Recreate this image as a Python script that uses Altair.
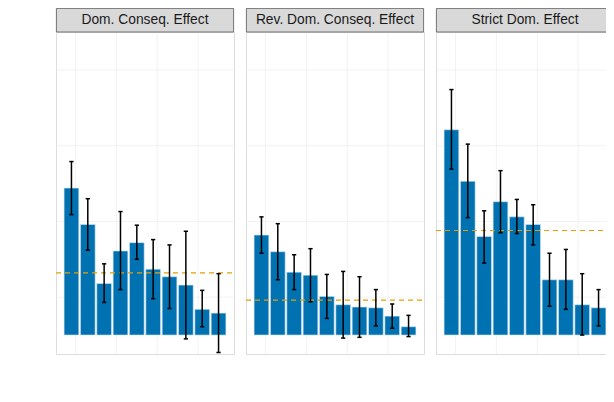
import altair as alt
import pandas as pd

panels = ["Dom. Conseq. Effect", "Rev. Dom. Conseq. Effect", "Strict Dom. Effect"]
xs = [1, 2, 3, 4, 5, 6, 7, 8, 9, 10]

rate_dom = [0.194, 0.146, 0.068, 0.111, 0.122, 0.087, 0.077, 0.066, 0.034, 0.029]
lo_dom = [0.159, 0.112, 0.043, 0.060, 0.100, 0.048, 0.035, -0.005, 0.011, -0.023]
hi_dom = [0.229, 0.180, 0.094, 0.163, 0.145, 0.126, 0.119, 0.137, 0.059, 0.081]

rate_rev = [0.132, 0.110, 0.083, 0.079, 0.051, 0.040, 0.037, 0.036, 0.025, 0.011]
lo_rev = [0.108, 0.073, 0.060, 0.044, 0.022, -0.004, -0.003, 0.012, 0.009, -0.002]
hi_rev = [0.156, 0.147, 0.106, 0.114, 0.080, 0.084, 0.077, 0.060, 0.041, 0.026]

rate_str = [0.271, 0.203, 0.130, 0.176, 0.156, 0.146, 0.073, 0.073, 0.040, 0.036]
lo_str = [0.219, 0.155, 0.095, 0.135, 0.134, 0.119, 0.038, 0.034, 0.000, 0.012]
hi_str = [0.324, 0.252, 0.164, 0.217, 0.179, 0.172, 0.108, 0.113, 0.081, 0.060]

ref_lines = [0.082, 0.046, 0.138]

rates = [rate_dom, rate_rev, rate_str]
los = [lo_dom, lo_rev, lo_str]
his = [hi_dom, hi_rev, hi_str]

x_major = [2.5, 5, 7.5, 10]
x_minor = [1.25, 3.75, 6.25, 8.75]
y_major = [0, 0.1, 0.2, 0.3, 0.4]
y_minor = [0.05, 0.15, 0.25, 0.35]

rows = []
for p, r, l, h, ref in zip(panels, rates, los, his, ref_lines):
    for x, rv, lv, hv in zip(xs, r, l, h):
        rows.append({"panel": p, "x": x, "rate": rv, "lo": lv, "hi": hv, "ref": ref})
df = pd.DataFrame(rows)

W = 178
H = 322
STRIP = 24
FONT = "Liberation Sans"
MAJ = "#DCDCDC"
MIN = "#E6E6E6"

xscale = alt.Scale(domain=[0.055, 10.945], nice=False, zero=False)
yscale = alt.Scale(domain=[-0.025, 0.4], nice=False, zero=False)

common_axis = dict(
    domain=False,
    tickColor="#333333",
    tickSize=4,
    labelFont=FONT,
    labelFontSize=14.5,
    labelColor="#4D4D4D",
    labelOverlap=False,
    labelFlush=False,
    titleFont=FONT,
    titleFontSize=14.5,
    titleFontWeight="normal",
    titleColor="#000000",
)


def panel_chart(i):
    sub = df[df["panel"] == panels[i]]
    base = alt.Chart(sub).properties(width=W, height=H)

    xaxis = alt.Axis(
        title="Logical Anomaly" if i == 1 else None,
        titlePadding=3,
        labelPadding=2,
        values=x_major,
        format=".1f",
        gridColor=MAJ,
        gridWidth=0.8,
        **common_axis,
    )
    if i == 0:
        yaxis = alt.Axis(
            title="Error Rate",
            titlePadding=3,
            labelPadding=5,
            values=y_major,
            format=".1f",
            gridColor=MAJ,
            gridWidth=0.8,
            **common_axis,
        )
    else:
        yaxis = alt.Axis(
            title=None, labels=False, ticks=False, domain=False,
            values=y_major, gridColor=MAJ, gridWidth=0.8,
        )

    # minor grid lines (panel decoration)
    vminor = alt.Chart(pd.DataFrame({"g": x_minor})).mark_rule(
        color=MIN, strokeWidth=0.5
    ).encode(x=alt.X("g:Q", scale=xscale, axis=None), y=alt.value(0), y2=alt.value(H))
    hminor = alt.Chart(pd.DataFrame({"g": y_minor})).mark_rule(
        color=MIN, strokeWidth=0.5
    ).encode(y=alt.Y("g:Q", scale=yscale, axis=None), x=alt.value(0), x2=alt.value(W))

    bars = base.transform_calculate(
        xl="datum.x - 0.45", xr="datum.x + 0.45", zero="0"
    ).mark_rect(color="#0072B2", stroke="#D6E6F2", strokeWidth=0.6).encode(
        x=alt.X("xl:Q", scale=xscale, axis=xaxis),
        x2="xr:Q",
        y=alt.Y("rate:Q", scale=yscale, axis=yaxis),
        y2="zero:Q",
    )

    err = base.mark_rule(color="black", strokeWidth=1.5).encode(
        x="x:Q", y="lo:Q", y2="hi:Q"
    )
    caps_lo = base.transform_calculate(
        cl="datum.x - 0.13", cr="datum.x + 0.13"
    ).mark_rule(color="black", strokeWidth=1.5).encode(x="cl:Q", x2="cr:Q", y="lo:Q")
    caps_hi = base.transform_calculate(
        cl="datum.x - 0.13", cr="datum.x + 0.13"
    ).mark_rule(color="black", strokeWidth=1.5).encode(x="cl:Q", x2="cr:Q", y="hi:Q")

    refline = base.transform_filter("datum.x == 1").mark_rule(
        color="#E69F00", strokeDash=[5, 4], strokeWidth=1.2
    ).encode(y="ref:Q", x=alt.value(0), x2=alt.value(W))

    strip = base.transform_filter("datum.x == 1").mark_rect(
        fill="#D9D9D9", stroke="#555555", strokeWidth=0.8, clip=False
    ).encode(x=alt.value(0.4), x2=alt.value(W - 0.4), y=alt.value(-STRIP + 0.4), y2=alt.value(0))

    strip_text = base.transform_filter("datum.x == 1").mark_text(
        font=FONT, fontSize=13.8, color="#1A1A1A", baseline="middle", align="center", clip=False
    ).encode(text="panel:N", x=alt.value(W / 2), y=alt.value(-STRIP / 2))

    return alt.layer(vminor, hminor, bars, refline, err, caps_lo, caps_hi, strip, strip_text)


chart = alt.hconcat(*[panel_chart(i) for i in range(3)], spacing=8).properties(
    autosize=alt.AutoSizeParams(type="none"),
    padding={"left": 48, "top": 24, "right": 550, "bottom": 362},
).configure_view(
    fill="#F0F0F0", stroke=None
).configure(background="white")

chart.save("out.html", embed_options={"renderer": "svg", "actions": False})
